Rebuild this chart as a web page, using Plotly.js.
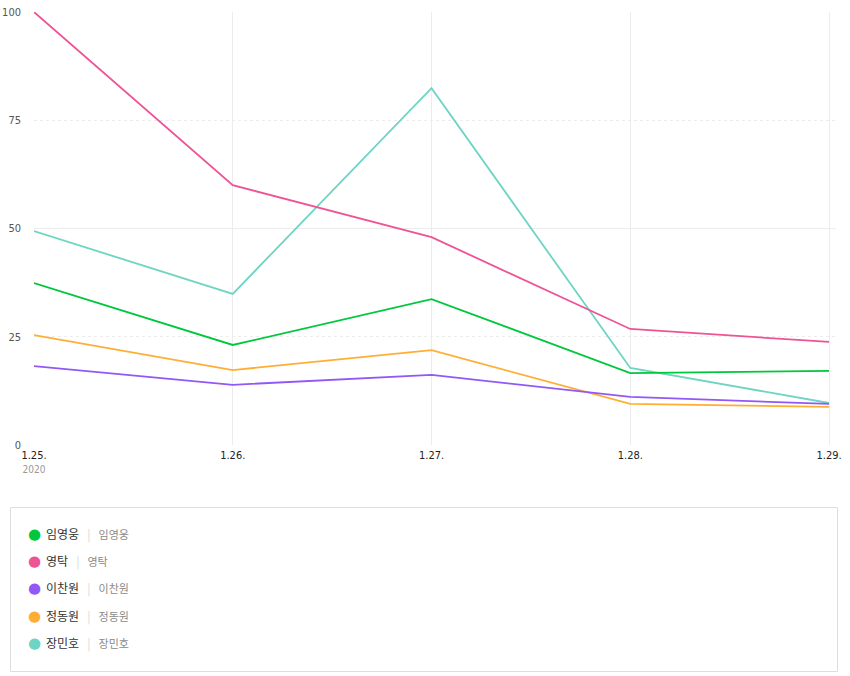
<!DOCTYPE html>
<html>
<head>
<meta charset="utf-8">
<script src="https://cdn.plot.ly/plotly-3.0.1.min.js"></script>
<style>html,body{margin:0;padding:0;background:#fff;}#chart{width:850px;height:676px;}</style>
</head>
<body>
<div id="chart"></div>
<script>
const dates = ['1.25.', '1.26.', '1.27.', '1.28.', '1.29.'];
const yearLabel = '2020';
const names = ['임영웅', '영탁', '이찬원', '정동원', '장민호'];
const colors = ['#00c73c', '#ee5396', '#9258f7', '#ffae35', '#6fd4c4'];
const lim = [37.4, 23.1, 33.7, 16.6, 17.1];
const young = [100, 60.0, 48.0, 26.8, 23.8];
const lee = [18.2, 13.9, 16.2, 11.1, 9.5];
const jung = [25.4, 17.3, 21.9, 9.5, 8.8];
const jang = [49.4, 34.9, 82.4, 17.8, 9.7];
const series = [lim, young, lee, jung, jang];

const W = 850, H = 676, L = 34, R = 14, T = 12, B = 231;
const pw = W - L - R, ph = H - T - B;
const px = x => (x - L) / pw;
const py = y => (H - B - y) / ph;
const narrow = 'Liberation Sans Narrow, DejaVu Sans Condensed, Arial Narrow, sans-serif';

const drawOrder = [4, 1, 0, 3, 2];
const traces = drawOrder.map(i => ({
  x: dates.map((d, k) => k),
  y: series[i],
  type: 'scatter',
  mode: 'lines',
  name: names[i],
  line: {color: colors[i], width: 1.8},
  showlegend: false,
  hoverinfo: 'x+y+name'
}));

const tickText = dates.map((d, k) => k === 0 ? d + '<br><span style="color:#999;font-size:10px">' + yearLabel + '</span>' : d);

const annotations = [];
names.forEach((n, i) => {
  const cy = 534 + i * 27.2;
  annotations.push({
    xref: 'paper', yref: 'paper', x: px(34), y: py(cy), xanchor: 'center', yanchor: 'middle',
    text: '●', showarrow: false, font: {size: 15, color: colors[i], family: 'DejaVu Sans'}
  });
  annotations.push({
    xref: 'paper', yref: 'paper', x: px(44), y: py(cy), xanchor: 'left', yanchor: 'middle',
    text: n + '   <span style="color:#d8d8d8">|</span>   <span style="color:#8a8a8a;font-size:11px">' + n + '</span>',
    showarrow: false, font: {size: 12, color: '#333', family: 'Noto Sans CJK KR'}
  });
});

const layout = {
  width: W, height: H,
  margin: {l: L, r: R, t: T, b: B, pad: 0},
  paper_bgcolor: '#fff', plot_bgcolor: '#fff',
  showlegend: false,
  font: {family: narrow, size: 11, color: '#444'},
  xaxis: {
    range: [0, 4.035], tickvals: [0, 1, 2, 3, 4], ticktext: tickText,
    showgrid: true, gridcolor: '#ececec', gridwidth: 1,
    zeroline: false, showline: false, ticks: '', ticklabelstandoff: 2,
    tickfont: {size: 11, color: '#222', family: narrow},
    fixedrange: true
  },
  yaxis: {
    range: [0, 100], tickvals: [0, 25, 50, 75, 100],
    showgrid: true, gridcolor: '#ececec', griddash: 'dot', gridwidth: 1,
    zeroline: false, showline: false, ticks: '', ticklabelstandoff: 12,
    tickfont: {size: 11, color: '#555', family: narrow},
    fixedrange: true
  },
  yaxis2: {
    overlaying: 'y', range: [0, 100], tickvals: [0, 50, 100],
    showgrid: true, gridcolor: '#ececec', gridwidth: 1,
    showticklabels: false, zeroline: false, showline: false, ticks: ''
  },
  shapes: [{
    type: 'rect', xref: 'paper', yref: 'paper', layer: 'below',
    x0: px(10.5), x1: px(837.5), y0: py(507.5), y1: py(671.5),
    line: {color: '#dedede', width: 1}, fillcolor: 'rgba(0,0,0,0)'
  }],
  annotations: annotations
};

traces.unshift({x: [0], y: [null], yaxis: 'y2', type: 'scatter', mode: 'lines', showlegend: false, hoverinfo: 'skip'});

Plotly.newPlot('chart', traces, layout, {displayModeBar: false, responsive: false});
</script>
</body>
</html>
